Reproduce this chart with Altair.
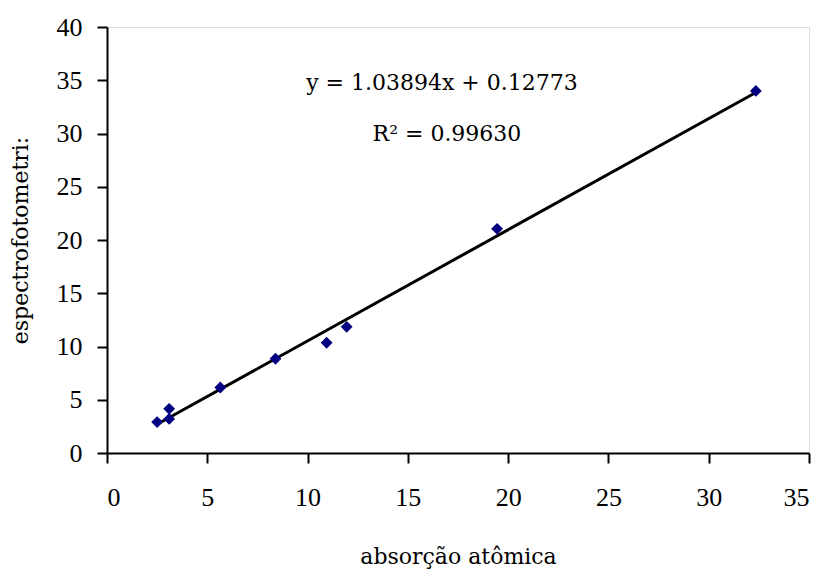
import altair as alt
import pandas as pd

# data
absorcao = [2.5, 3.1, 3.1, 5.65, 8.4, 10.95, 11.95, 19.45, 32.35]
espectro = [2.9, 4.15, 3.2, 6.15, 8.85, 10.35, 11.85, 21.05, 34.0]

eq_lines = ["y = 1.03894x + 0.12773", "R² = 0.99630"]
eq_x = [16.7, 16.95]
eq_y = [34.7, 29.95]

df = pd.DataFrame({"x": absorcao, "y": espectro})
df_eq = pd.DataFrame({"t": eq_lines, "x": eq_x, "y": eq_y})

TICKFONT = "Liberation Serif"
TITLEFONT = "DejaVu Serif"

xs = alt.Scale(domain=[0, 35], nice=False, zero=False)
ys = alt.Scale(domain=[0, 40], nice=False, zero=False)

base = alt.Chart(df)

points = base.mark_point(shape="diamond", filled=True, size=140, color="#000080", opacity=1).encode(
    x=alt.X("x:Q", scale=xs, title="absorção atômica",
            axis=alt.Axis(values=list(range(0, 36, 5)), grid=False, domainColor="black",
                          domainWidth=2, tickColor="black", tickWidth=2, tickSize=10,
                          labelPadding=21, titlePadding=36, labelFontSize=26, titleFontSize=22,
                          labelFont=TICKFONT, titleFont=TITLEFONT, labelColor="black",
                          titleColor="black", titleFontWeight="normal")),
    y=alt.Y("y:Q", scale=ys, title="espectrofotometri:",
            axis=alt.Axis(values=list(range(0, 41, 5)), grid=False, domainColor="black",
                          domainWidth=2, tickColor="black", tickWidth=2, tickSize=10,
                          labelPadding=15, titlePadding=24, labelFontSize=26, titleFontSize=22,
                          labelFont=TICKFONT, titleFont=TITLEFONT, labelColor="black",
                          titleColor="black", titleFontWeight="normal")),
)

trend = base.transform_regression("x", "y", method="linear").mark_line(
    color="black", strokeWidth=3
).encode(x=alt.X("x:Q", scale=xs), y=alt.Y("y:Q", scale=ys))

text = alt.Chart(df_eq).mark_text(font=TITLEFONT, fontSize=22, color="black", align="center",
                                  baseline="middle").encode(
    x=alt.X("x:Q", scale=xs), y=alt.Y("y:Q", scale=ys), text="t:N")

chart = alt.layer(trend, points, text).properties(
    width=702, height=426,
    autosize=alt.AutoSizeParams(type="none"),
    padding={"left": 107, "top": 27, "right": 14, "bottom": 118},
).configure_view(stroke=None).configure(background="white")

chart.save("out.html", embed_options={"renderer": "svg", "actions": False})
